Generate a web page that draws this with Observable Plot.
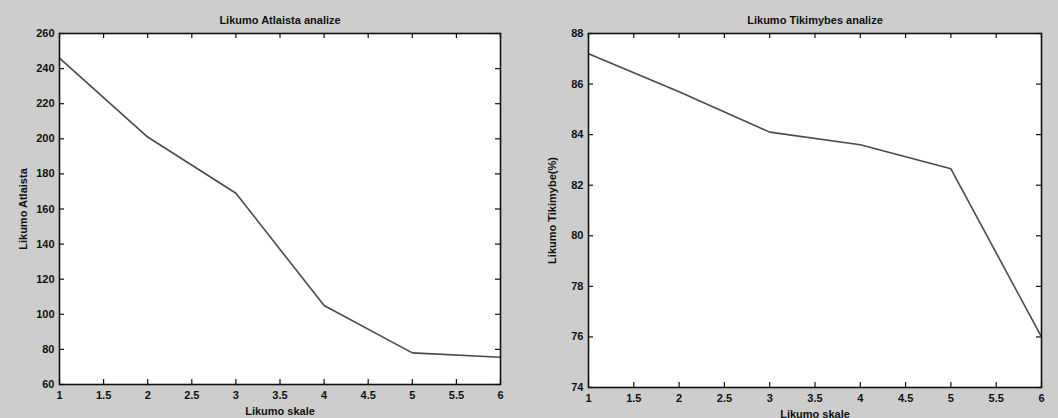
<!DOCTYPE html>
<html>
<head>
<meta charset="utf-8">
<script src="https://cdn.jsdelivr.net/npm/d3@7"></script>
<script src="https://cdn.jsdelivr.net/npm/@observablehq/plot@0.6"></script>
<style>
  html, body { margin: 0; padding: 0; background: #cdcdcd; }
  #wrap { position: relative; width: 1058px; height: 418px; background: #cdcdcd; overflow: hidden; }
  #left { position: absolute; left: 0; top: 0; }
  #right { position: absolute; left: 529px; top: 0; }
</style>
</head>
<body>
<div id="wrap"><div id="left"></div><div id="right"></div></div>
<script>
const scale = [1, 2, 3, 4, 5, 6];
const atlaista = [246, 201, 169, 105, 78, 75.5];
const tikimybe = [87.2, 85.7, 84.1, 83.6, 82.65, 76.0];
const xTicks = [1, 1.5, 2, 2.5, 3, 3.5, 4, 4.5, 5, 5.5, 6];
const yTicksLeft = [60, 80, 100, 120, 140, 160, 180, 200, 220, 240, 260];
const yTicksRight = [74, 76, 78, 80, 82, 84, 86, 88];
const titles = ["Likumo Atlaista analize", "Likumo Tikimybes analize"];
const yLabels = ["Likumo Atlaista", "Likumo Tikimybe(%)"];
const xLabel = "Likumo skale";

function makePanel(vals, yTicks, title, yLabel, m) {
  const data = scale.map((x, i) => ({x, y: vals[i]}));
  const W = 529, H = 418, T = 5;
  const innerW = W - m.l - m.r, innerH = H - m.t - m.b;
  const ink = "#111";
  return Plot.plot({
    width: W,
    height: H,
    marginLeft: m.l,
    marginRight: m.r,
    marginTop: m.t,
    marginBottom: m.b,
    style: {background: "transparent", fontFamily: "'Liberation Sans', Arial, sans-serif", fontSize: "11px", color: ink},
    x: {domain: [1, 6]},
    y: {domain: [yTicks[0], yTicks[yTicks.length - 1]]},
    marks: [
      Plot.frame({fill: "white", stroke: "none"}),
      // inward ticks on all four sides
      Plot.tickX(xTicks, {x: d => d, insetTop: innerH - T, stroke: ink, strokeWidth: 1.2}),
      Plot.tickX(xTicks, {x: d => d, insetBottom: innerH - T, stroke: ink, strokeWidth: 1.2}),
      Plot.tickY(yTicks, {y: d => d, insetRight: innerW - T, stroke: ink, strokeWidth: 1.2}),
      Plot.tickY(yTicks, {y: d => d, insetLeft: innerW - T, stroke: ink, strokeWidth: 1.2}),
      Plot.axisX({ticks: xTicks, tickSize: 0, tickPadding: 7, tickFormat: d => String(d), label: xLabel, labelAnchor: "center", labelArrow: "none", labelOffset: 30, fontWeight: "bold"}),
      Plot.axisY({ticks: yTicks, tickSize: 0, tickPadding: 5, tickFormat: d => String(d), label: yLabel, labelAnchor: "center", labelArrow: "none", labelOffset: 40, fontWeight: "bold"}),
      Plot.lineY(data, {x: "x", y: "y", stroke: "#4a4a4a", strokeWidth: 1.6}),
      Plot.frame({stroke: ink, strokeWidth: 1.6}),
      Plot.text([title], {frameAnchor: "top", dy: -17, text: d => d, fontWeight: "bold", fontSize: 11, fill: ink})
    ]
  });
}

document.getElementById("left").append(makePanel(atlaista, yTicksLeft, titles[0], yLabels[0], {l: 59, r: 29, t: 33, b: 34}));
document.getElementById("right").append(makePanel(tikimybe, yTicksRight, titles[1], yLabels[1], {l: 59, r: 17, t: 33, b: 31}));
</script>
</body>
</html>
